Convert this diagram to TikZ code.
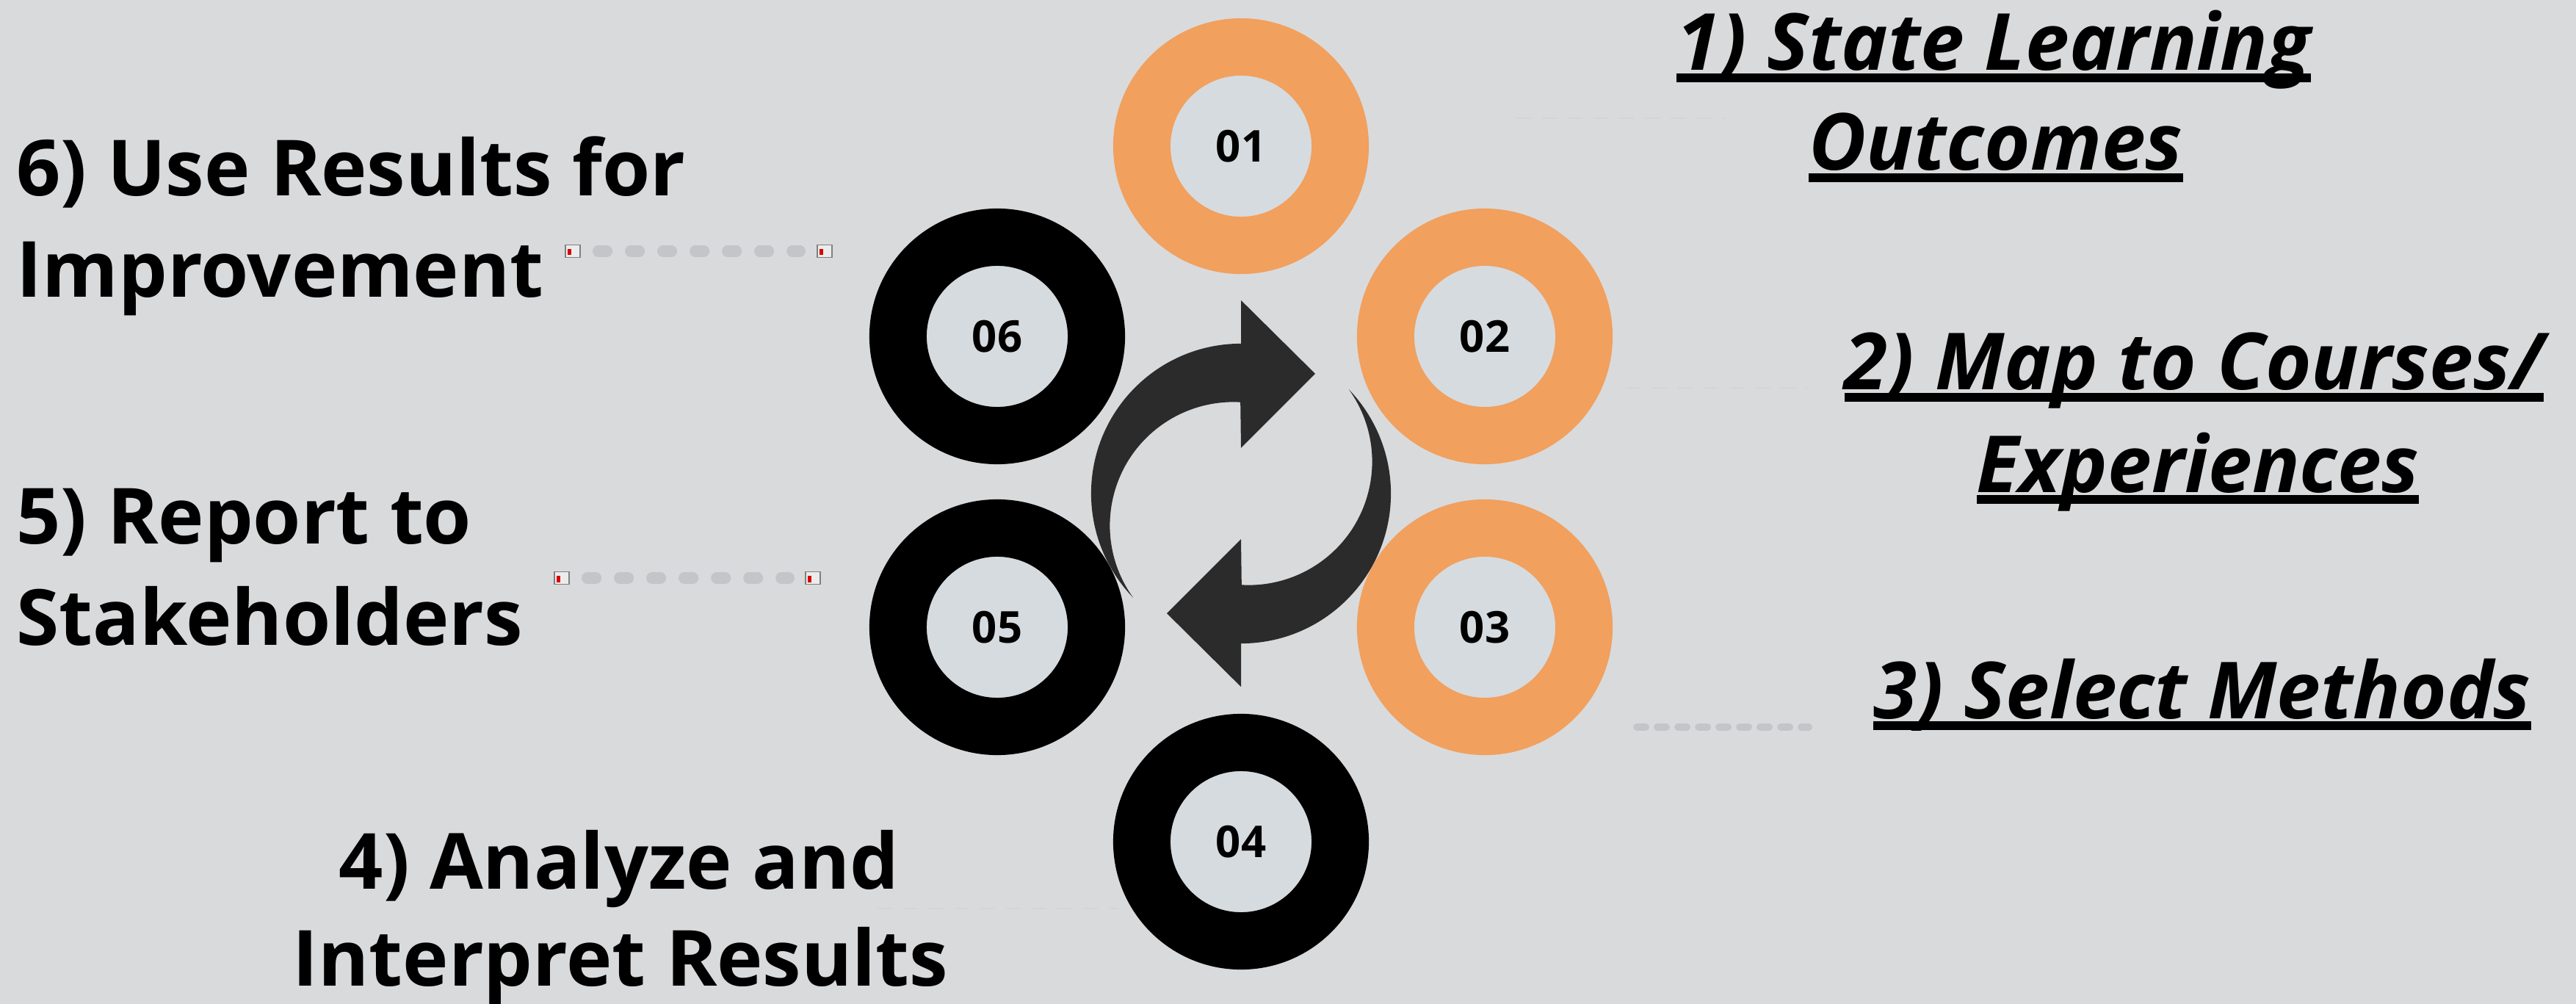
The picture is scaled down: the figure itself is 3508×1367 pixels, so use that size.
\documentclass[tikz,border=0pt]{standalone}
\usepackage{fontspec}
\setmainfont{Open Sans}
\usetikzlibrary{calc}
\definecolor{bg}{RGB}{217,218,220}
\definecolor{ringorange}{RGB}{241,160,94}
\definecolor{ringinner}{RGB}{214,219,223}
\definecolor{arrowgray}{RGB}{43,43,43}
\definecolor{dotgray}{RGB}{196,197,200}
\definecolor{faintgray}{RGB}{211,212,215}
\newcommand{\thickul}[1]{\setbox0=\hbox{#1}\rlap{\rule[-0.16cm]{\wd0}{0.12cm}}\box0}
\newcommand{\cyclearrow}{%
  \fill[arrowgray] (0cm,2.04cm) arc[start angle=90,end angle=224,radius=2.04cm]
    arc[start angle=215.8,end angle=86.7,radius=1.68cm]
    -- (0cm,0.62cm) -- (1.01cm,1.63cm) -- (0cm,2.63cm) -- cycle;}
\begin{document}
\begin{tikzpicture}[x=0.01cm,y=-0.01cm,
  ringnode/.style={circle, minimum size=2.7cm, line width=0.78cm, inner sep=0pt,
    fill=ringinner, font=\fontsize{17}{20}\selectfont\bfseries},
  orangering/.style={ringnode, draw=ringorange},
  blackring/.style={ringnode, draw=black},
  labelL/.style={inner sep=0pt, font=\fontsize{30}{36}\selectfont\bfseries},
  labelR/.style={inner sep=0pt, font=\fontsize{30.5}{36}\selectfont\bfseries\itshape},
  icon/.style={rectangle, draw=gray, fill=white!85!gray, line width=0.3pt,
    minimum width=0.2cm, minimum height=0.17cm, inner sep=0pt,
    path picture={\fill[red!85!black] ([shift={(0.03cm,0.03cm)}]path picture bounding box.south west) rectangle ++(0.05cm,0.08cm);}},
  leftdots/.style={draw=dotgray, line width=0.15cm, line cap=round,
    dash pattern=on 0.12cm off 0.32cm},
  rightdots/.style={draw=dotgray, line width=0.1cm, line cap=round,
    dash pattern=on 0.12cm off 0.16cm},
  faintdots/.style={draw=faintgray, line width=0.025cm,
    dash pattern=on 0.2cm off 0.15cm}
]
\fill[bg] (0,0) rectangle (3508,1367);
\useasboundingbox (0,0) rectangle (3508,1367);

% rings
\node[orangering] (r1) at (1690,199) {01};
\node[orangering] (r2) at (2022,458) {02};
\node[orangering] (r3) at (2022,854) {03};
\node[blackring] (r4) at (1690,1146) {04};
\node[blackring] (r5) at (1358,854) {05};
\node[blackring] (r6) at (1358,458) {06};

% central cycle arrows
\coordinate (C) at (1690,672);
\begin{scope}[shift={(C)}]
  \cyclearrow
\end{scope}
\begin{scope}[shift={(C)}, rotate=180]
  \cyclearrow
\end{scope}

% left labels
\node[labelL, anchor=base west] (t6a) at (22,267) {6) Use Results for};
\node[labelL, anchor=base west] (t6b) at (22,405) {Improvement};
\node[labelL, anchor=base west] (t5a) at (22,740) {5) Report to};
\node[labelL, anchor=base west] (t5b) at (22,878) {Stakeholders};
\node[labelL, anchor=base] (t4a) at (843,1210) {4) Analyze and};
\node[labelL, anchor=base] (t4b) at (845,1342) {Interpret Results};

% right labels
\node[labelR, anchor=base] (t1a) at (2715,96) {\thickul{1) State Learning}};
\node[labelR, anchor=base] (t1b) at (2718,232) {\thickul{Outcomes}};
\node[labelR, anchor=base] (t2a) at (2988,531) {\thickul{2) Map to Courses/}};
\node[labelR, anchor=base] (t2b) at (2993,670) {\thickul{Experiences}};
\node[labelR, anchor=base] (t3) at (2999,978) {\thickul{3) Select Methods}};

% left dotted connectors with icons
\node[icon] (i6a) at (780,342) {};
\node[icon] (i6b) at (1123,342) {};
\draw[leftdots, shorten <=0.24cm, shorten >=0.23cm] (i6a) -- (i6b);
\node[icon] (i5a) at (765,787) {};
\node[icon] (i5b) at (1107,787) {};
\draw[leftdots, shorten <=0.24cm, shorten >=0.22cm] (i5a) -- (i5b);

% right dotted connectors
\coordinate (c3s) at (2229,990);
\coordinate (c3e) at (2463,990);
\draw[rightdots] (c3s) -- (c3e);
\coordinate (c1s) at (2065,161);
\coordinate (c1e) at (2349,161);
\draw[faintdots] (c1s) -- (c1e);
\coordinate (c2s) at (2215,528);
\coordinate (c2e) at (2462,528);
\draw[faintdots] (c2s) -- (c2e);
\coordinate (c4s) at (1195,1237);
\coordinate (c4e) at (1523,1237);
\draw[faintdots] (c4s) -- (c4e);
\end{tikzpicture}
\end{document}
